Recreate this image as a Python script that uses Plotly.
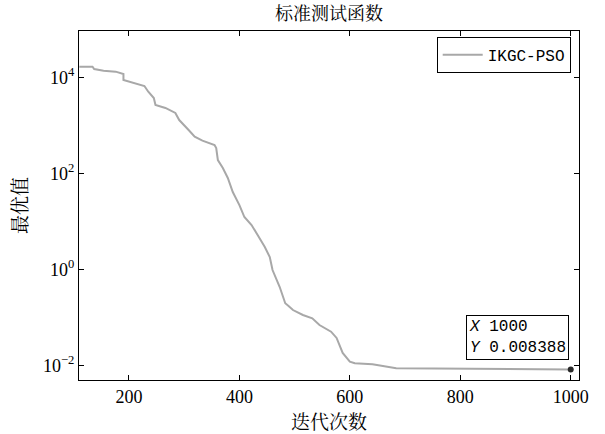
import plotly.graph_objects as go

# Data (iteration, best value)
iterations = [110, 134, 137, 154, 176, 190, 190, 207, 228, 235, 245, 248, 266, 284, 291,
              308, 319, 333, 355, 358, 361, 370, 379, 388, 400, 409, 422, 433, 446, 455,
              460, 473, 483, 489, 497, 515, 532, 545, 566, 576, 587, 600, 609, 641, 672,
              684, 1000]
best_values = [16600, 16600, 14900, 13700, 13100, 11700, 8790, 7610, 6590, 5010, 3710, 2650,
               2300, 1810, 1290, 802, 581, 480, 391, 338, 190, 130, 80.4, 41.1, 22.0, 12.4,
               8.45, 5.24, 2.95, 1.82, 0.977, 0.433, 0.199, 0.175, 0.144, 0.1135, 0.0969,
               0.0703, 0.0511, 0.0378, 0.0184, 0.01214, 0.01122, 0.01071, 0.00955, 0.00883,
               0.008388]

x_tick_vals = [200, 400, 600, 800, 1000]
y_tick_vals = [1e4, 1e2, 1e0, 1e-2]
y_tick_text = ["10<sup>4</sup>", "10<sup>2</sup>", "10<sup>0</sup>", "10<sup>−2</sup>"]

tip_x = 1000
tip_y = 0.008388

series_name = "IKGC-PSO"
title_text = "标准测试函数"
x_title = "迭代次数"
y_title = "最优值"

cjk = "Noto Serif CJK SC, Noto Sans CJK SC, serif"
serif = "Liberation Serif, Times New Roman, serif"
mono = "Liberation Mono, Courier New, monospace"

fig = go.Figure()
fig.add_trace(go.Scatter(
    x=iterations, y=best_values, mode="lines", name=series_name,
    line=dict(color="rgb(168,168,168)", width=2),
))
fig.add_trace(go.Scatter(
    x=[tip_x], y=[tip_y], mode="markers", showlegend=False,
    marker=dict(color="rgb(40,40,40)", size=6),
))

fig.update_layout(
    width=605, height=434,
    margin=dict(l=79, r=26, t=31, b=54),
    paper_bgcolor="white", plot_bgcolor="white",
    title=dict(text=title_text, x=0.5, xref="paper", xanchor="center",
               y=1 - 14 / 434, yref="container", yanchor="middle",
               font=dict(family=cjk, size=18, color="black")),
    showlegend=True,
    legend=dict(x=0.9834, y=0.983, xanchor="right", yanchor="top",
                bordercolor="black", borderwidth=1, bgcolor="white",
                font=dict(family=mono, size=16, color="black"),
                tracegroupgap=0, itemwidth=40),
    xaxis=dict(
        range=[109.5, 1015], tickvals=x_tick_vals,
        ticks="inside", ticklen=5, tickcolor="black",
        showline=True, linecolor="black", linewidth=1, mirror="ticks",
        showgrid=False, zeroline=False,
        tickfont=dict(family=serif, size=18, color="black"),
        title=dict(text=x_title, font=dict(family=cjk, size=19, color="black"), standoff=0),
    ),
    yaxis=dict(
        type="log", range=[-2.297, 4.963],
        tickvals=y_tick_vals, ticktext=y_tick_text,
        ticks="inside", ticklen=5, tickcolor="black",
        showline=True, linecolor="black", linewidth=1, mirror="ticks",
        showgrid=False, zeroline=False,
        tickfont=dict(family=serif, size=18, color="black"),
        title=dict(text=y_title, font=dict(family=cjk, size=19, color="black"), standoff=10),
    ),
    annotations=[dict(
        xref="paper", yref="paper", x=0.9794, y=0.0573,
        xanchor="right", yanchor="bottom", showarrow=False, align="left",
        text=f"<i>X</i> {tip_x}<br><i>Y</i> {tip_y}",
        font=dict(family=mono, size=16, color="black"),
        bordercolor="black", borderwidth=1, borderpad=2, bgcolor="white",
    )],
)

fig.write_html("out.html", config={"displayModeBar": False},
               post_script="document.body.style.margin='0';document.body.style.padding='0';")
